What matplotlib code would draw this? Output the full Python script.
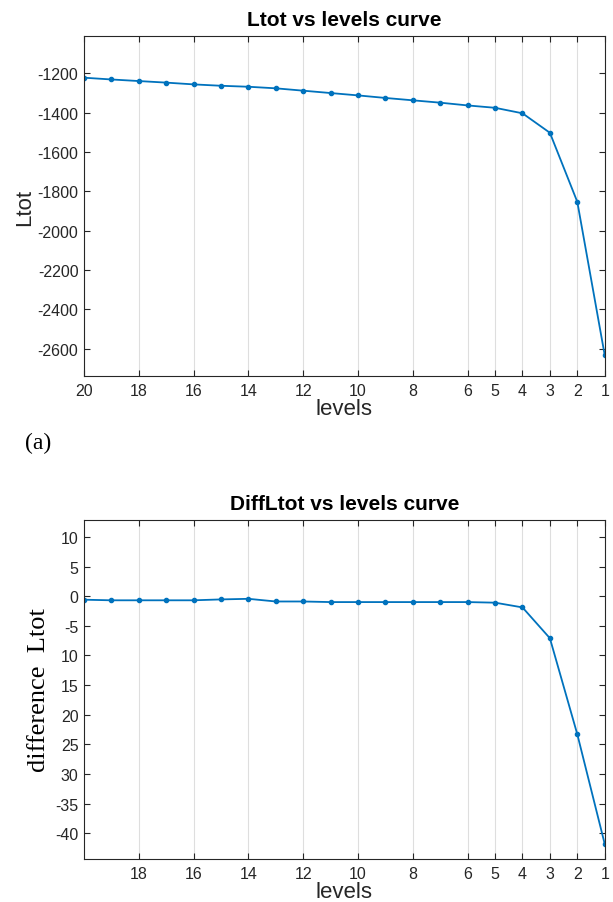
import numpy as np
import matplotlib
matplotlib.use("Agg")
import matplotlib.pyplot as plt

plt.rcParams['font.family'] = ['Liberation Sans', 'DejaVu Sans']
plt.rcParams['axes.unicode_minus'] = False

levels = [20, 19, 18, 17, 16, 15, 14, 13, 12, 11, 10, 9, 8, 7, 6, 5, 4, 3, 2, 1]
ltot = [-1222, -1231, -1239, -1247, -1256, -1263, -1268, -1276, -1288, -1300,
        -1312, -1325, -1337, -1349, -1363, -1375, -1403, -1502, -1853, -2632]
diff_ltot = [-0.6, -0.7, -0.7, -0.7, -0.7, -0.55, -0.45, -0.9, -0.9, -1.0,
             -1.0, -1.0, -1.0, -1.0, -1.0, -1.1, -1.9, -7.1, -23.3, -41.8]

xticks_top = [20, 18, 16, 14, 12, 10, 8, 6, 5, 4, 3, 2, 1]
xticks_bottom = [18, 16, 14, 12, 10, 8, 6, 5, 4, 3, 2, 1]
yticks_top = [-2600, -2400, -2200, -2000, -1800, -1600, -1400, -1200]
yticks_bottom = [-40, -35, -30, -25, -20, -15, -10, -5, 0, 5, 10]
ylabels_bottom = ['-40', '-35', '30', '25', '20', '15', '10', '-5', '0', '5', '10']

blue = '#0072BD'
dark = '#262626'
W, H = 613, 903

fig = plt.figure(figsize=(W / 100, H / 100), dpi=100)
ax1 = fig.add_axes([84 / W, 1 - 377.3 / H, 520.7 / W, 340.3 / H])
ax2 = fig.add_axes([84 / W, 1 - 859.7 / H, 520.7 / W, 339.0 / H])


def style(ax):
    for s in ax.spines.values():
        s.set_color(dark)
        s.set_linewidth(0.8)
    ax.tick_params(direction='in', length=4, width=0.8, colors=dark,
                   labelsize=11.5, top=True, right=True, pad=5)
    ax.tick_params(axis='y', pad=4)
    ax.grid(axis='x', color='#dedede', linewidth=0.8)
    ax.set_axisbelow(True)
    ax.set_xlim(20, 1)


ax1.plot(levels, ltot, '-o', color=blue, lw=1.3, ms=3)
style(ax1)
ax1.set_ylim(-2740, -1010)
ax1.set_xticks(xticks_top)
ax1.set_yticks(yticks_top)
ax1.set_title('Ltot vs levels curve', fontsize=15, fontweight='bold', pad=8)
ax1.set_xlabel('levels', fontsize=16, color=dark, labelpad=0)
ax1.set_ylabel('Ltot', fontsize=16, color=dark, labelpad=2)

fig.text(38 / W, 1 - 443 / H, '(a)', family='Liberation Serif', fontsize=17,
         ha='center', va='center')

ax2.plot(levels, diff_ltot, '-o', color=blue, lw=1.3, ms=3)
style(ax2)
ax2.set_ylim(-44.3, 12.9)
ax2.set_xticks(xticks_bottom)
ax2.set_yticks(yticks_bottom)
ax2.set_yticklabels(ylabels_bottom)
ax2.set_title('DiffLtot vs levels curve', fontsize=15, fontweight='bold', pad=8)
ax2.set_xlabel('levels', fontsize=16, color=dark, labelpad=0)
ax2.set_ylabel('difference  Ltot', family='Liberation Serif', fontsize=19,
               labelpad=4)

fig.savefig('out.png', dpi=100)
